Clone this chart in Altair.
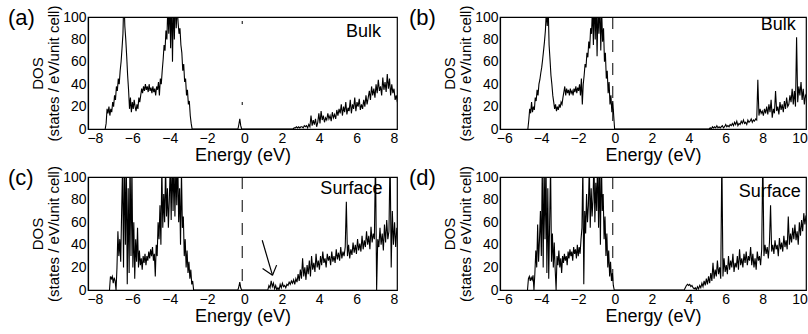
import altair as alt
import pandas as pd

# ---------------- data ----------------
# Each segment: start energy, grid step, DOS values on that grid
A_SEGS = [
    (-7.45, 0.05, [0, 5, 18, 14, 20, 12, 18, 15, 24, 20, 30, 26, 38, 34, 45, 40, 52, 60, 72, 85,
                   120, 92, 80, 65, 48, 35, 18, 28, 15, 24, 18, 26, 20, 16, 22, 18, 28, 24, 30, 36,
                   32, 38, 34, 40, 35, 38, 33, 40, 34, 37, 32, 38, 33, 36, 30, 38, 35, 42, 30, 45,
                   40, 52, 62, 75, 70, 88, 80, 110, 85, 115, 72, 120, 60, 115, 80, 120, 90, 110, 95, 85,
                   90, 75, 68, 52, 58, 42, 45, 30, 35, 22, 25, 12, 5, 0]),
    (-0.35, 0.05, [0, 4, 9, 3, 0]),
    (2.60, 0.06, [0, 1, 1, 2, 1, 2, 1, 2, 2, 1, 3, 2, 3, 1, 4, 2, 12, 3, 8, 4,
                  9, 2, 6, 14, 5, 16, 8, 12, 6, 10, 8, 14, 9, 12, 7, 15, 10, 13, 9, 17,
                  12, 18, 14, 22, 12, 20, 15, 24, 13, 19, 16, 26, 14, 22, 18, 28, 16, 24, 20, 27,
                  17, 22, 18, 26, 20, 30, 22, 28, 34, 26, 38, 30, 36, 28, 40, 32, 44, 34, 38, 30,
                  46, 35, 42, 33, 49, 36, 45, 30, 40, 32, 36, 26, 30, 24]),
]
B_SEGS = [
    (-4.72, 0.05, [0, 8, 18, 14, 24, 15, 20, 17, 28, 25, 35, 30, 40, 44, 50, 55, 62, 70, 78, 88,
                   105, 92, 110, 75, 62, 48, 40, 30, 24, 18, 22, 16, 20, 17, 22, 19, 24, 22, 28, 33,
                   38, 30, 36, 32, 35, 30, 36, 32, 34, 30, 36, 33, 38, 32, 37, 34, 40, 30, 45, 22,
                   40, 48, 58, 55, 68, 64, 78, 72, 90, 85, 110, 75, 120, 80, 115, 65, 110, 85, 120, 70,
                   105, 78, 90, 60, 68, 45, 52, 32, 42, 22, 30, 15, 25, 12, 0]),
    (5.10, 0.06, [0, 1, 0, 2, 1, 2, 1, 3, 1, 2, 1, 2, 3, 1, 2, 4, 2, 3, 2, 4,
                  3, 5, 3, 6, 4, 7, 3, 5, 4, 7, 5, 8, 5, 6, 4, 8, 6, 7, 9, 6,
                  8, 7, 9, 8, 44, 12, 18, 14, 16, 12, 18, 14, 20, 13, 22, 15, 26, 10, 18, 14,
                  34, 16, 20, 13, 24, 17, 22, 15, 25, 18, 28, 20, 22, 30, 24, 36, 22, 34, 20, 82,
                  24, 38, 30, 42, 26, 36, 22, 30, 28]),
]
C_SEGS = [
    (-7.22, 0.05, [0, 12, 10, 12, 6, 11, 8, 0, 20, 52, 30, 45, 25, 70, 110, 20, 120, 40, 115, 5,
                   90, 15, 120, 30, 110, 20, 60, 10, 45, 25, 55, 20, 35, 22, 28, 18, 30, 24, 32, 22,
                   30, 26, 34, 28, 36, 30, 38, 26, 32, 12, 40, 30, 60, 45, 75, 40, 110, 55, 85, 60,
                   110, 65, 90, 55, 80, 110, 62, 120, 70, 115, 65, 110, 75, 120, 60, 90, 40, 105, 55, 65,
                   30, 45, 20, 35, 15, 25, 10, 18, 5, 8, 0]),
    (-0.35, 0.05, [0, 3, 7, 2, 0]),
    (1.25, 0.06, [0, 4, 2, 8, 3, 6, 1, 4, 0, 2, 0, 5, 2, 6, 3, 4, 2, 5, 4, 7,
                  5, 8, 6, 9, 5, 10, 7, 14, 8, 18, 10, 28, 12, 20, 9, 22, 14, 26, 12, 30,
                  18, 24, 16, 32, 20, 26, 18, 30, 22, 34, 24, 28, 20, 32, 26, 30, 22, 34, 25, 30,
                  24, 36, 27, 33, 26, 38, 28, 34, 30, 38, 78, 30, 40, 28, 36, 31, 42, 33, 40, 32,
                  45, 35, 41, 34, 48, 36, 44, 38, 52, 40, 48, 36, 56, 42, 50, 45, 120, 0, 45, 38,
                  55, 40, 50, 35, 58, 42, 62, 45, 52, 120, 20, 70, 40, 60, 38, 55]),
]
D_SEGS = [
    (-4.74, 0.05, [0, 10, 12, 8, 11, 9, 13, 0, 15, 35, 20, 58, 25, 45, 70, 30, 110, 20, 115, 45,
                   120, 15, 90, 10, 60, 110, 25, 50, 20, 42, 18, 0, 30, 22, 35, 20, 28, 15, 30, 24,
                   32, 26, 30, 22, 34, 28, 36, 30, 34, 26, 38, 32, 36, 28, 40, 30, 38, 32, 45, 55,
                   110, 5, 70, 50, 85, 60, 75, 110, 55, 90, 65, 80, 115, 60, 95, 70, 120, 55, 110, 40,
                   120, 70, 85, 45, 65, 30, 50, 20, 35, 12, 25, 8, 15, 4, 0]),
    (3.75, 0.06, [0, 2, 4, 5, 4, 5, 3, 4, 2, 1, 2, 0, 3, 1, 4, 2, 6, 3, 8, 4,
                  10, 5, 12, 6, 15, 8, 24, 10, 18, 12, 26, 14, 20, 10, 120, 12, 28, 16, 22, 14,
                  30, 18, 26, 20, 32, 16, 24, 20, 30, 18, 36, 22, 28, 20, 32, 24, 34, 22, 30, 26,
                  38, 22, 32, 20, 28, 18, 34, 26, 30, 22, 36, 120, 30, 40, 32, 38, 28, 42, 75, 34,
                  40, 32, 44, 36, 40, 30, 46, 36, 42, 34, 48, 38, 44, 36, 65, 40, 50, 42, 55, 45,
                  58, 44, 52, 40, 60, 48, 62, 52, 68, 58, 66]),
]

PANEL_TAGS = ["(a)", "(b)", "(c)", "(d)"]
PANEL_NOTES = ["Bulk", "Bulk", "Surface", "Surface"]
NOTE_E = [7.3, 9.8, 7.38, 10.07]
NOTE_D = [87, 93, 89, 87]
FERMI_E = [-0.12, -0.12, -0.12, -0.12]
X_DOMAIN_LEFT = [-8.37, 8.16]
X_DOMAIN_RIGHT = [-6.23, 10.35]
X_TICKS_LEFT = [-8, -6, -4, -2, 0, 2, 4, 6, 8]
X_TICKS_RIGHT = [-6, -4, -2, 0, 2, 4, 6, 8, 10]
Y_TICKS = [0, 20, 40, 60, 80, 100]
# arrow in panel (c): shaft and two head strokes (E, DOS) -> (E2, DOS2)
ARROW_E = [0.95, 0.97, 1.72]
ARROW_D = [44, 19, 22]
ARROW_E2 = [1.5, 1.5, 1.5]
ARROW_D2 = [13, 13, 13]

FONT = "Liberation Sans"


def build_df(segs):
    rows = []
    for start, step, vals in segs:
        for i, v in enumerate(vals):
            rows.append({"E": round(start + i * step, 4), "D": v})
    df = pd.DataFrame(rows)
    df["i"] = range(len(df))
    return df


def panel(segs, idx, xdom, xticks, width, height, dash, dash_offset, arrow=False):
    df = build_df(segs)
    xs = alt.Scale(domain=xdom, nice=False, zero=False)
    ys = alt.Scale(domain=[0, 100], nice=False)
    xax = alt.Axis(values=xticks, title="Energy (eV)", labelOverlap=False)
    yax = alt.Axis(values=Y_TICKS, title=["DOS", "(states / eV/unit cell)"], labelOverlap=False)
    x = alt.X("E:Q", scale=xs, axis=xax)
    y = alt.Y("D:Q", scale=ys, axis=yax)
    line = alt.Chart(df).mark_line(color="black", strokeWidth=1.1, clip=True).encode(
        x=x, y=y, order="i:Q")
    fermi = alt.Chart(pd.DataFrame({"E": [FERMI_E[idx]], "D": [100], "D2": [0]})).mark_rule(
        color="black", strokeWidth=1, strokeDash=dash, strokeDashOffset=dash_offset
    ).encode(x=x, y=y, y2="D2:Q")
    note = alt.Chart(pd.DataFrame({"E": [NOTE_E[idx]], "D": [NOTE_D[idx]],
                                   "t": [PANEL_NOTES[idx]]})).mark_text(
        align="right", baseline="middle", font=FONT, fontSize=18, color="black"
    ).encode(x=x, y=y, text="t:N")
    tag = alt.Chart(pd.DataFrame({"t": [PANEL_TAGS[idx]]})).mark_text(
        align="left", baseline="top", font=FONT, fontSize=22, color="black"
    ).encode(x=alt.value(-80 if idx in (0, 2) else -91), y=alt.value(-9), text="t:N")
    layers = [line, fermi, note, tag]
    if arrow:
        adf = pd.DataFrame({"E": ARROW_E, "D": ARROW_D, "E2": ARROW_E2, "D2": ARROW_D2})
        arr = alt.Chart(adf).mark_rule(color="black", strokeWidth=1.2).encode(
            x=x, y=y, x2="E2:Q", y2="D2:Q")
        layers.append(arr)
    return alt.layer(*layers).properties(width=width, height=height)


pa = panel(A_SEGS, 0, X_DOMAIN_LEFT, X_TICKS_LEFT, 309, 112, [3, 78], 77)
pb = panel(B_SEGS, 1, X_DOMAIN_RIGHT, X_TICKS_RIGHT, 306, 112, [12, 11], 0)
pc = panel(C_SEGS, 2, X_DOMAIN_LEFT, X_TICKS_LEFT, 309, 113, [12, 11], 0, arrow=True)
pd_ = panel(D_SEGS, 3, X_DOMAIN_RIGHT, X_TICKS_RIGHT, 306, 113, [12, 11], 0)

chart = alt.concat(
    pa, pb, pc, pd_, columns=2, bounds="flush",
    spacing={"row": 48, "column": 103},
).properties(
    padding={"left": 7, "top": 4, "right": 0, "bottom": 0},
    background="white",
).configure_view(stroke="black", strokeWidth=1.2).configure_axis(
    labelFont=FONT, labelFontSize=14, labelColor="black", titleFont=FONT,
    titleColor="black", titleFontWeight="normal", domainColor="black",
    domainWidth=1.2, ticks=False, grid=False, labelPadding=2,
).configure_axisX(titleFontSize=18, titlePadding=1).configure_axisY(
    titleFontSize=15, titlePadding=1, titleLineHeight=16)

chart.save("out.html", embed_options={"renderer": "svg", "actions": False})
